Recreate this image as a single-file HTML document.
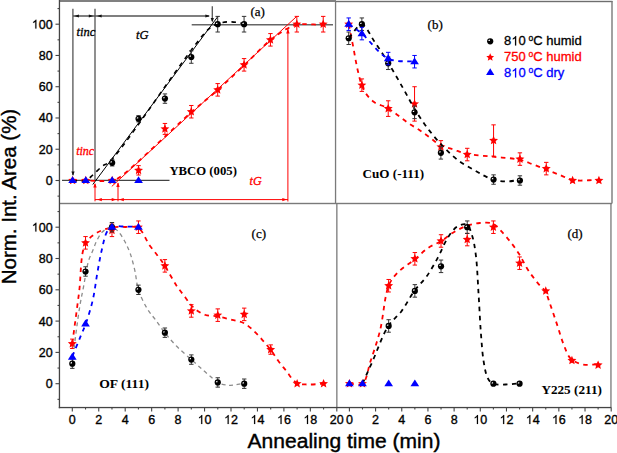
<!DOCTYPE html>
<html><head><meta charset="utf-8"><style>
html,body{margin:0;padding:0;background:#fff;}
svg{display:block;}
.sans{font-family:"Liberation Sans",sans-serif;}
.serif{font-family:"Liberation Serif",serif;}
</style></head><body>
<svg width="617" height="453" viewBox="0 0 617 453">
<rect x="0" y="0" width="617" height="453" fill="#fff"/>
<rect x="59" y="0" width="277" height="2" fill="#808080"/>
<rect x="336" y="0.8" width="276.5" height="1.4" fill="#6e6e6e"/>
<rect x="59" y="202.8" width="553" height="1.4" fill="#7a7a7a"/>
<rect x="334.9" y="1" width="1.3" height="202.5" fill="#7a7a7a"/>
<rect x="336.2" y="203.5" width="1.3" height="204" fill="#7a7a7a"/>
<rect x="611.3" y="1" width="1.4" height="202.5" fill="#7a7a7a"/>
<rect x="610.3" y="203.5" width="1.3" height="204" fill="#7a7a7a"/>
<rect x="58.8" y="0" width="1.3" height="408.2" fill="#444"/>
<rect x="58.8" y="406.9" width="552.5" height="1.3" fill="#444"/>
<path d="M57.5,196.13 H59.5" stroke="#444" stroke-width="1.1"/><path d="M55.5,180.5 H59.5" stroke="#444" stroke-width="1.1"/><path d="M57.5,164.87 H59.5" stroke="#444" stroke-width="1.1"/><path d="M55.5,149.24 H59.5" stroke="#444" stroke-width="1.1"/><path d="M57.5,133.61 H59.5" stroke="#444" stroke-width="1.1"/><path d="M55.5,117.98 H59.5" stroke="#444" stroke-width="1.1"/><path d="M57.5,102.35 H59.5" stroke="#444" stroke-width="1.1"/><path d="M55.5,86.72 H59.5" stroke="#444" stroke-width="1.1"/><path d="M57.5,71.09 H59.5" stroke="#444" stroke-width="1.1"/><path d="M55.5,55.46 H59.5" stroke="#444" stroke-width="1.1"/><path d="M57.5,39.83 H59.5" stroke="#444" stroke-width="1.1"/><path d="M55.5,24.2 H59.5" stroke="#444" stroke-width="1.1"/><path d="M57.5,8.57 H59.5" stroke="#444" stroke-width="1.1"/><path d="M57.5,399.35 H59.5" stroke="#444" stroke-width="1.1"/><path d="M55.5,383.7 H59.5" stroke="#444" stroke-width="1.1"/><path d="M57.5,368.05 H59.5" stroke="#444" stroke-width="1.1"/><path d="M55.5,352.4 H59.5" stroke="#444" stroke-width="1.1"/><path d="M57.5,336.75 H59.5" stroke="#444" stroke-width="1.1"/><path d="M55.5,321.1 H59.5" stroke="#444" stroke-width="1.1"/><path d="M57.5,305.45 H59.5" stroke="#444" stroke-width="1.1"/><path d="M55.5,289.8 H59.5" stroke="#444" stroke-width="1.1"/><path d="M57.5,274.15 H59.5" stroke="#444" stroke-width="1.1"/><path d="M55.5,258.5 H59.5" stroke="#444" stroke-width="1.1"/><path d="M57.5,242.85 H59.5" stroke="#444" stroke-width="1.1"/><path d="M55.5,227.2 H59.5" stroke="#444" stroke-width="1.1"/><path d="M57.5,211.55 H59.5" stroke="#444" stroke-width="1.1"/><path d="M72.3,407.5 V411.5" stroke="#444" stroke-width="1.1"/><path d="M85.52,407.5 V409.5" stroke="#444" stroke-width="1.1"/><path d="M98.75,407.5 V411.5" stroke="#444" stroke-width="1.1"/><path d="M111.97,407.5 V409.5" stroke="#444" stroke-width="1.1"/><path d="M125.2,407.5 V411.5" stroke="#444" stroke-width="1.1"/><path d="M138.43,407.5 V409.5" stroke="#444" stroke-width="1.1"/><path d="M151.65,407.5 V411.5" stroke="#444" stroke-width="1.1"/><path d="M164.88,407.5 V409.5" stroke="#444" stroke-width="1.1"/><path d="M178.1,407.5 V411.5" stroke="#444" stroke-width="1.1"/><path d="M191.32,407.5 V409.5" stroke="#444" stroke-width="1.1"/><path d="M204.55,407.5 V411.5" stroke="#444" stroke-width="1.1"/><path d="M217.77,407.5 V409.5" stroke="#444" stroke-width="1.1"/><path d="M231,407.5 V411.5" stroke="#444" stroke-width="1.1"/><path d="M244.22,407.5 V409.5" stroke="#444" stroke-width="1.1"/><path d="M257.45,407.5 V411.5" stroke="#444" stroke-width="1.1"/><path d="M270.68,407.5 V409.5" stroke="#444" stroke-width="1.1"/><path d="M283.9,407.5 V411.5" stroke="#444" stroke-width="1.1"/><path d="M297.12,407.5 V409.5" stroke="#444" stroke-width="1.1"/><path d="M310.35,407.5 V411.5" stroke="#444" stroke-width="1.1"/><path d="M323.57,407.5 V409.5" stroke="#444" stroke-width="1.1"/><path d="M336.8,407.5 V411.5" stroke="#444" stroke-width="1.1"/><path d="M349.4,407.5 V411.5" stroke="#444" stroke-width="1.1"/><path d="M362.49,407.5 V409.5" stroke="#444" stroke-width="1.1"/><path d="M375.58,407.5 V411.5" stroke="#444" stroke-width="1.1"/><path d="M388.67,407.5 V409.5" stroke="#444" stroke-width="1.1"/><path d="M401.76,407.5 V411.5" stroke="#444" stroke-width="1.1"/><path d="M414.85,407.5 V409.5" stroke="#444" stroke-width="1.1"/><path d="M427.94,407.5 V411.5" stroke="#444" stroke-width="1.1"/><path d="M441.03,407.5 V409.5" stroke="#444" stroke-width="1.1"/><path d="M454.12,407.5 V411.5" stroke="#444" stroke-width="1.1"/><path d="M467.21,407.5 V409.5" stroke="#444" stroke-width="1.1"/><path d="M480.3,407.5 V411.5" stroke="#444" stroke-width="1.1"/><path d="M493.39,407.5 V409.5" stroke="#444" stroke-width="1.1"/><path d="M506.48,407.5 V411.5" stroke="#444" stroke-width="1.1"/><path d="M519.57,407.5 V409.5" stroke="#444" stroke-width="1.1"/><path d="M532.66,407.5 V411.5" stroke="#444" stroke-width="1.1"/><path d="M545.75,407.5 V409.5" stroke="#444" stroke-width="1.1"/><path d="M558.84,407.5 V411.5" stroke="#444" stroke-width="1.1"/><path d="M571.93,407.5 V409.5" stroke="#444" stroke-width="1.1"/><path d="M585.02,407.5 V411.5" stroke="#444" stroke-width="1.1"/><path d="M598.11,407.5 V409.5" stroke="#444" stroke-width="1.1"/><path d="M611.2,407.5 V411.5" stroke="#444" stroke-width="1.1"/>
<g class="sans" font-size="12.5" fill="#000" stroke="#000" stroke-width="0.35"><text x="45.65" y="184.9">0</text><text x="38.7" y="153.64">2</text><text x="45.65" y="153.64">0</text><text x="38.7" y="122.38">4</text><text x="45.65" y="122.38">0</text><text x="38.7" y="91.12">6</text><text x="45.65" y="91.12">0</text><text x="38.7" y="59.86">8</text><text x="45.65" y="59.86">0</text><text x="38.7" y="28.6">0</text><text x="45.65" y="28.6">0</text><path d="M35.3,28.6L36.4,28.6L36.4,19.65L35.69,19.65C35.49,20.05 35.18,20.45 34.76,20.86C34.34,21.28 33.8,21.64 33.14,21.95L33.14,23.02C33.48,22.88 33.86,22.7 34.28,22.46C34.69,22.23 35.03,21.95 35.3,21.69Z" stroke-width="0.15"/><text x="45.65" y="388.1">0</text><text x="38.7" y="356.8">2</text><text x="45.65" y="356.8">0</text><text x="38.7" y="325.5">4</text><text x="45.65" y="325.5">0</text><text x="38.7" y="294.2">6</text><text x="45.65" y="294.2">0</text><text x="38.7" y="262.9">8</text><text x="45.65" y="262.9">0</text><text x="38.7" y="231.6">0</text><text x="45.65" y="231.6">0</text><path d="M35.3,231.6L36.4,231.6L36.4,222.65L35.69,222.65C35.49,223.05 35.18,223.45 34.76,223.86C34.34,224.28 33.8,224.64 33.14,224.95L33.14,226.02C33.48,225.88 33.86,225.7 34.28,225.46C34.69,225.23 35.03,224.95 35.3,224.69Z" stroke-width="0.15"/><text x="68.82" y="424">0</text><text x="95.27" y="424">2</text><text x="121.72" y="424">4</text><text x="148.17" y="424">6</text><text x="174.62" y="424">8</text><text x="204.55" y="424">0</text><path d="M201.16,424L202.26,424L202.26,415.05L201.54,415.05C201.35,415.45 201.03,415.85 200.61,416.26C200.19,416.68 199.65,417.04 199,417.35L199,418.42C199.34,418.28 199.72,418.1 200.13,417.86C200.55,417.63 200.89,417.35 201.16,417.09Z" stroke-width="0.15"/><text x="231" y="424">2</text><path d="M227.61,424L228.71,424L228.71,415.05L227.99,415.05C227.8,415.45 227.48,415.85 227.06,416.26C226.64,416.68 226.1,417.04 225.45,417.35L225.45,418.42C225.79,418.28 226.17,418.1 226.58,417.86C227,417.63 227.34,417.35 227.61,417.09Z" stroke-width="0.15"/><text x="257.45" y="424">4</text><path d="M254.06,424L255.16,424L255.16,415.05L254.44,415.05C254.25,415.45 253.93,415.85 253.51,416.26C253.09,416.68 252.55,417.04 251.9,417.35L251.9,418.42C252.24,418.28 252.62,418.1 253.03,417.86C253.45,417.63 253.79,417.35 254.06,417.09Z" stroke-width="0.15"/><text x="283.9" y="424">6</text><path d="M280.51,424L281.61,424L281.61,415.05L280.89,415.05C280.7,415.45 280.38,415.85 279.96,416.26C279.54,416.68 279,417.04 278.35,417.35L278.35,418.42C278.69,418.28 279.07,418.1 279.48,417.86C279.9,417.63 280.24,417.35 280.51,417.09Z" stroke-width="0.15"/><text x="310.35" y="424">8</text><path d="M306.96,424L308.06,424L308.06,415.05L307.34,415.05C307.15,415.45 306.83,415.85 306.41,416.26C305.99,416.68 305.45,417.04 304.8,417.35L304.8,418.42C305.14,418.28 305.52,418.1 305.93,417.86C306.35,417.63 306.69,417.35 306.96,417.09Z" stroke-width="0.15"/><text x="329.85" y="424">2</text><text x="336.8" y="424">0</text><text x="345.92" y="424">0</text><text x="372.1" y="424">2</text><text x="398.28" y="424">4</text><text x="424.46" y="424">6</text><text x="450.64" y="424">8</text><text x="480.3" y="424">0</text><path d="M476.91,424L478.01,424L478.01,415.05L477.29,415.05C477.1,415.45 476.78,415.85 476.36,416.26C475.94,416.68 475.4,417.04 474.75,417.35L474.75,418.42C475.09,418.28 475.47,418.1 475.88,417.86C476.3,417.63 476.64,417.35 476.91,417.09Z" stroke-width="0.15"/><text x="506.48" y="424">2</text><path d="M503.09,424L504.19,424L504.19,415.05L503.47,415.05C503.28,415.45 502.96,415.85 502.54,416.26C502.12,416.68 501.58,417.04 500.93,417.35L500.93,418.42C501.27,418.28 501.65,418.1 502.06,417.86C502.48,417.63 502.82,417.35 503.09,417.09Z" stroke-width="0.15"/><text x="532.66" y="424">4</text><path d="M529.27,424L530.37,424L530.37,415.05L529.65,415.05C529.46,415.45 529.14,415.85 528.72,416.26C528.3,416.68 527.76,417.04 527.11,417.35L527.11,418.42C527.45,418.28 527.83,418.1 528.24,417.86C528.66,417.63 529,417.35 529.27,417.09Z" stroke-width="0.15"/><text x="558.84" y="424">6</text><path d="M555.45,424L556.55,424L556.55,415.05L555.83,415.05C555.64,415.45 555.32,415.85 554.9,416.26C554.48,416.68 553.94,417.04 553.29,417.35L553.29,418.42C553.63,418.28 554.01,418.1 554.42,417.86C554.84,417.63 555.18,417.35 555.45,417.09Z" stroke-width="0.15"/><text x="585.02" y="424">8</text><path d="M581.63,424L582.73,424L582.73,415.05L582.01,415.05C581.82,415.45 581.5,415.85 581.08,416.26C580.66,416.68 580.12,417.04 579.47,417.35L579.47,418.42C579.81,418.28 580.19,418.1 580.6,417.86C581.02,417.63 581.36,417.35 581.63,417.09Z" stroke-width="0.15"/><text x="604.25" y="424">2</text><text x="611.2" y="424">0</text></g>
<text x="247.6" y="448.3" class="sans" font-size="20" stroke="#000" stroke-width="0.4" textLength="192.8" lengthAdjust="spacingAndGlyphs">Annealing time (min)</text>
<text transform="translate(16.2,284.3) rotate(-90)" x="0" y="0" class="sans" font-size="20" stroke="#000" stroke-width="0.4" textLength="175.5" lengthAdjust="spacingAndGlyphs">Norm. Int. Area (%)</text>
<g class="serif" font-size="13" fill="#000" stroke="#000" stroke-width="0.25">
<text x="250.4" y="16.3">(a)</text>
<text x="427.6" y="28.8">(b)</text>
<text x="251.6" y="238.4">(c)</text>
<text x="567.4" y="238.4">(d)</text>
</g>
<g class="serif" font-size="13" font-weight="bold" fill="#000" lengthAdjust="spacingAndGlyphs">
<text x="169.4" y="174.6" textLength="67.5" lengthAdjust="spacingAndGlyphs">YBCO (005)</text>
<text x="362.6" y="178" textLength="61.5" lengthAdjust="spacingAndGlyphs">CuO (-111)</text>
<text x="99.2" y="387.8" textLength="49.8" lengthAdjust="spacingAndGlyphs">OF (111)</text>
<text x="541.4" y="394.4" textLength="60.5" lengthAdjust="spacingAndGlyphs">Y225 (211)</text>
</g>
<path d="M72.9,8.8 V175 M95,8.8 V181 M73,16 H209 M212.3,6.3 V21" stroke="#555" stroke-width="1.3" fill="none"/><polygon points="74.3,16 78.9,14.5 78.9,17.5" fill="#111"/><polygon points="93.4,16 88.8,17.5 88.8,14.5" fill="#111"/><polygon points="97,16 101.6,14.5 101.6,17.5" fill="#111"/><polygon points="210,16 205.4,17.5 205.4,14.5" fill="#111"/><polygon points="73,176 71.4,171.4 74.6,171.4" fill="#111"/><polygon points="212.3,22.5 210.7,17.9 213.9,17.9" fill="#111"/><path d="M191.7,24.8 H333" stroke="#666" stroke-width="1.6"/><path d="M62,180.4 H169.5" stroke="#444" stroke-width="1.2"/><path d="M92.8,184.5 L218,16.3" stroke="#000" stroke-width="1"/><path d="M111.8,186.4 L296.5,16.6" stroke="#ff0000" stroke-width="1"/><path d="M95,184 V201.3 M118,183 V201.3 M287.9,29 V201.5 M95,199.6 H288" stroke="#ff0000" stroke-width="1" fill="none"/><polygon points="95,182.8 96.7,187.6 93.3,187.6" fill="#ff0000"/><polygon points="118,182.2 119.7,187 116.3,187" fill="#ff0000"/><polygon points="287.9,28.6 289.6,33.4 286.2,33.4" fill="#ff0000"/><polygon points="97.2,199.6 101.8,198 101.8,201.2" fill="#ff0000"/><polygon points="116.3,199.6 111.7,201.2 111.7,198" fill="#ff0000"/><polygon points="119.2,199.6 123.8,198 123.8,201.2" fill="#ff0000"/><polygon points="286.9,199.6 282.3,201.2 282.3,198" fill="#ff0000"/>
<g class="serif" font-style="italic" font-size="12.5" stroke-width="0.3">
<text x="76.6" y="35.8" stroke="#000">tinc</text>
<text x="136" y="39" stroke="#000">tG</text>
<text x="76.2" y="154.6" fill="#ff0000" stroke="#ff0000" font-size="12">tinc</text>
<text x="249.6" y="184.6" fill="#ff0000" stroke="#ff0000" font-size="12">tG</text>
</g>
<path d="M72.6,180.5 C77,180.5 80.63,180.5 85.8,180.5 C93.17,180.5 106.55,181.86 112.6,180.5 C115.95,179.75 116.52,179.32 120,177 C131.95,169.01 173.52,127.82 191.6,112 C202.34,102.6 209.07,97.67 217.7,90 C226.6,82.09 235.43,73.5 244.2,65.2 C252.93,56.93 262.53,46.6 270.2,40.3 C275.64,35.83 280.25,32.59 285,29.9 C288.96,27.66 291.74,25.81 296.5,24.8 C303.43,23.33 314.3,24.8 323.2,24.8" stroke="#ff0000" stroke-width="1.8" fill="none" stroke-dasharray="4.5 4.5"/>
<path d="M72.6,180.5 C77,180.5 82.17,181.78 85.8,180.5 C88.94,179.39 90.89,176.55 93.5,174.3 C96.38,171.82 99.36,168.44 102.3,166.2 C104.86,164.25 106.46,164.66 110,161.4 C125.06,147.53 191.48,44.86 208,29.7 C212.36,25.7 214.13,25.02 217.7,23.7 C221.43,22.32 225.75,21.84 230,21.8 C234.56,21.75 239.47,23.07 244.2,23.7" stroke="#000" stroke-width="1.6" fill="none" stroke-dasharray="4.5 4.5"/>
<path d="M138.55,165.65 V175.03 M136.35,165.65 h4.4 M136.35,175.03 h4.4" stroke="#ff0000" stroke-width="1" fill="none"/><path d="M164.93,123.45 V134.39 M162.73,123.45 h4.4 M162.73,134.39 h4.4" stroke="#ff0000" stroke-width="1" fill="none"/><path d="M191.31,105.48 V117.98 M189.11,105.48 h4.4 M189.11,117.98 h4.4" stroke="#ff0000" stroke-width="1" fill="none"/><path d="M217.69,83.59 V96.1 M215.49,83.59 h4.4 M215.49,96.1 h4.4" stroke="#ff0000" stroke-width="1" fill="none"/><path d="M244.07,58.59 V71.09 M241.87,58.59 h4.4 M241.87,71.09 h4.4" stroke="#ff0000" stroke-width="1" fill="none"/><path d="M270.45,33.58 V46.08 M268.25,33.58 h4.4 M268.25,46.08 h4.4" stroke="#ff0000" stroke-width="1" fill="none"/><path d="M296.83,16.39 V32.02 M294.63,16.39 h4.4 M294.63,32.02 h4.4" stroke="#ff0000" stroke-width="1" fill="none"/><path d="M323.21,16.39 V32.02 M321.01,16.39 h4.4 M321.01,32.02 h4.4" stroke="#ff0000" stroke-width="1" fill="none"/><polygon points="72.6,175.8 73.87,178.75 77.07,179.05 74.66,181.17 75.36,184.3 72.6,182.66 69.84,184.3 70.54,181.17 68.13,179.05 71.33,178.75" fill="#ff0000"/><polygon points="85.79,175.8 87.06,178.75 90.26,179.05 87.85,181.17 88.55,184.3 85.79,182.66 83.03,184.3 83.73,181.17 81.32,179.05 84.52,178.75" fill="#ff0000"/><polygon points="112.17,175.8 113.44,178.75 116.64,179.05 114.23,181.17 114.93,184.3 112.17,182.66 109.41,184.3 110.11,181.17 107.7,179.05 110.9,178.75" fill="#ff0000"/><polygon points="138.55,165.64 139.82,168.59 143.02,168.89 140.61,171.01 141.31,174.14 138.55,172.5 135.79,174.14 136.49,171.01 134.08,168.89 137.28,168.59" fill="#ff0000"/><polygon points="164.93,124.22 166.2,127.17 169.4,127.47 166.99,129.59 167.69,132.72 164.93,131.08 162.17,132.72 162.87,129.59 160.46,127.47 163.66,127.17" fill="#ff0000"/><polygon points="191.31,107.03 192.58,109.98 195.78,110.28 193.37,112.4 194.07,115.53 191.31,113.89 188.55,115.53 189.25,112.4 186.84,110.28 190.04,109.98" fill="#ff0000"/><polygon points="217.69,85.15 218.96,88.1 222.16,88.39 219.75,90.51 220.45,93.65 217.69,92.01 214.93,93.65 215.63,90.51 213.22,88.39 216.42,88.1" fill="#ff0000"/><polygon points="244.07,60.14 245.34,63.09 248.54,63.39 246.13,65.51 246.83,68.64 244.07,67 241.31,68.64 242.01,65.51 239.6,63.39 242.8,63.09" fill="#ff0000"/><polygon points="270.45,35.13 271.72,38.08 274.92,38.38 272.51,40.5 273.21,43.63 270.45,41.99 267.69,43.63 268.39,40.5 265.98,38.38 269.18,38.08" fill="#ff0000"/><polygon points="296.83,19.5 298.1,22.45 301.3,22.75 298.89,24.87 299.59,28 296.83,26.36 294.07,28 294.77,24.87 292.36,22.75 295.56,22.45" fill="#ff0000"/><polygon points="323.21,19.5 324.48,22.45 327.68,22.75 325.27,24.87 325.97,28 323.21,26.36 320.45,28 321.15,24.87 318.74,22.75 321.94,22.45" fill="#ff0000"/>
<path d="M112.17,159.71 V165.96 M109.97,159.71 h4.4 M109.97,165.96 h4.4" stroke="#333" stroke-width="1" fill="none"/><path d="M138.55,115.64 V121.89 M136.35,115.64 h4.4 M136.35,121.89 h4.4" stroke="#333" stroke-width="1" fill="none"/><path d="M164.93,93.91 V103.29 M162.73,93.91 h4.4 M162.73,103.29 h4.4" stroke="#333" stroke-width="1" fill="none"/><path d="M191.31,50.77 V63.28 M189.11,50.77 h4.4 M189.11,63.28 h4.4" stroke="#333" stroke-width="1" fill="none"/><path d="M217.69,16.39 V32.02 M215.49,16.39 h4.4 M215.49,32.02 h4.4" stroke="#333" stroke-width="1" fill="none"/><path d="M244.07,16.39 V32.02 M241.87,16.39 h4.4 M241.87,32.02 h4.4" stroke="#333" stroke-width="1" fill="none"/><circle cx="112.17" cy="162.84" r="3.1" fill="#000"/><path d="M111.82,162.59 h-1.55 a1.55,1.55 0 0 1 1.55,-1.55 z" fill="#fff"/><circle cx="138.55" cy="118.76" r="3.1" fill="#000"/><path d="M138.2,118.51 h-1.55 a1.55,1.55 0 0 1 1.55,-1.55 z" fill="#fff"/><circle cx="164.93" cy="98.6" r="3.1" fill="#000"/><path d="M164.58,98.35 h-1.55 a1.55,1.55 0 0 1 1.55,-1.55 z" fill="#fff"/><circle cx="191.31" cy="57.02" r="3.1" fill="#000"/><path d="M190.96,56.77 h-1.55 a1.55,1.55 0 0 1 1.55,-1.55 z" fill="#fff"/><circle cx="217.69" cy="24.2" r="3.1" fill="#000"/><path d="M217.34,23.95 h-1.55 a1.55,1.55 0 0 1 1.55,-1.55 z" fill="#fff"/><circle cx="244.07" cy="24.2" r="3.1" fill="#000"/><path d="M243.72,23.95 h-1.55 a1.55,1.55 0 0 1 1.55,-1.55 z" fill="#fff"/>
<polygon points="72.6,176.2 68.25,183.1 76.95,183.1" fill="#0000ff"/><polygon points="85.79,176.2 81.44,183.1 90.14,183.1" fill="#0000ff"/><polygon points="112.17,176.2 107.82,183.1 116.52,183.1" fill="#0000ff"/><polygon points="138.55,176.2 134.2,183.1 142.9,183.1" fill="#0000ff"/>
<path d="M348.7,24.3 C350.2,31.77 351.76,39.33 353.2,46.7 C354.59,53.86 355.7,61.24 357.2,67.9 C358.56,73.93 359.88,80.23 361.7,85 C363.11,88.69 364.43,91.55 366.5,94.4 C368.63,97.33 371.19,100.1 374.4,102.3 C378.05,104.8 383.54,105.82 387.6,108.1 C391.44,110.26 394.69,112.95 398.2,115.5 C401.76,118.08 405.21,121.05 408.8,123.5 C412.28,125.87 415.91,127.67 419.4,130 C422.98,132.39 426.5,135.17 430,137.7 C433.43,140.17 436.43,143.07 440.2,145 C444.16,147.02 448.92,147.94 453.3,149.4 C457.69,150.87 461.28,152.65 466.5,153.8 C473.68,155.38 483.96,155.73 492.7,156.7 C501.46,157.67 511.83,158.01 519,159.6 C524.16,160.74 527.55,162.37 532,164 C536.77,165.75 541.81,167.86 546.7,169.8 C551.58,171.73 556.69,173.82 561.3,175.6 C565.41,177.19 568.29,179.14 573,180 C579.63,181.2 589.47,180 597.7,180" stroke="#ff0000" stroke-width="1.8" fill="none" stroke-dasharray="4.5 4.5"/>
<path d="M361.87,78.91 V91.41 M359.67,78.91 h4.4 M359.67,91.41 h4.4" stroke="#ff0000" stroke-width="1" fill="none"/><path d="M388.21,100.79 V116.42 M386.01,100.79 h4.4 M386.01,116.42 h4.4" stroke="#ff0000" stroke-width="1" fill="none"/><path d="M414.55,86.72 V121.11 M412.35,86.72 h4.4 M412.35,121.11 h4.4" stroke="#ff0000" stroke-width="1" fill="none"/><path d="M440.89,140.64 V153.15 M438.69,140.64 h4.4 M438.69,153.15 h4.4" stroke="#ff0000" stroke-width="1" fill="none"/><path d="M467.23,148.3 V160.81 M465.03,148.3 h4.4 M465.03,160.81 h4.4" stroke="#ff0000" stroke-width="1" fill="none"/><path d="M493.57,124.86 V156.12 M491.37,124.86 h4.4 M491.37,156.12 h4.4" stroke="#ff0000" stroke-width="1" fill="none"/><path d="M519.91,152.83 V165.34 M517.71,152.83 h4.4 M517.71,165.34 h4.4" stroke="#ff0000" stroke-width="1" fill="none"/><path d="M546.25,162.37 V174.87 M544.05,162.37 h4.4 M544.05,174.87 h4.4" stroke="#ff0000" stroke-width="1" fill="none"/><polygon points="348.7,19.5 349.97,22.45 353.17,22.75 350.76,24.87 351.46,28 348.7,26.36 345.94,28 346.64,24.87 344.23,22.75 347.43,22.45" fill="#ff0000"/><polygon points="361.87,80.46 363.14,83.41 366.34,83.7 363.93,85.83 364.63,88.96 361.87,87.32 359.11,88.96 359.81,85.83 357.4,83.7 360.6,83.41" fill="#ff0000"/><polygon points="388.21,103.9 389.48,106.85 392.68,107.15 390.27,109.27 390.97,112.4 388.21,110.76 385.45,112.4 386.15,109.27 383.74,107.15 386.94,106.85" fill="#ff0000"/><polygon points="414.55,99.21 415.82,102.16 419.02,102.46 416.61,104.58 417.31,107.72 414.55,106.08 411.79,107.72 412.49,104.58 410.08,102.46 413.28,102.16" fill="#ff0000"/><polygon points="440.89,142.2 442.16,145.15 445.36,145.44 442.95,147.56 443.65,150.7 440.89,149.06 438.13,150.7 438.83,147.56 436.42,145.44 439.62,145.15" fill="#ff0000"/><polygon points="467.23,149.85 468.5,152.81 471.7,153.1 469.29,155.22 469.99,158.36 467.23,156.72 464.47,158.36 465.17,155.22 462.76,153.1 465.96,152.81" fill="#ff0000"/><polygon points="493.57,135.79 494.84,138.74 498.04,139.03 495.63,141.16 496.33,144.29 493.57,142.65 490.81,144.29 491.51,141.16 489.1,139.03 492.3,138.74" fill="#ff0000"/><polygon points="519.91,154.39 521.18,157.34 524.38,157.63 521.97,159.75 522.67,162.89 519.91,161.25 517.15,162.89 517.85,159.75 515.44,157.63 518.64,157.34" fill="#ff0000"/><polygon points="546.25,163.92 547.52,166.87 550.72,167.17 548.31,169.29 549.01,172.42 546.25,170.78 543.49,172.42 544.19,169.29 541.78,167.17 544.98,166.87" fill="#ff0000"/><polygon points="572.59,175.8 573.86,178.75 577.06,179.05 574.65,181.17 575.35,184.3 572.59,182.66 569.83,184.3 570.53,181.17 568.12,179.05 571.32,178.75" fill="#ff0000"/><polygon points="598.93,175.8 600.2,178.75 603.4,179.05 600.99,181.17 601.69,184.3 598.93,182.66 596.17,184.3 596.87,181.17 594.46,179.05 597.66,178.75" fill="#ff0000"/>
<path d="M348.7,38 C353.1,33.6 357.72,24.5 361.9,24.8 C366.32,25.12 370.17,35.44 374.4,41.5 C379.19,48.37 384.24,56.24 389,64 C393.94,72.05 398.93,80.99 403.5,89 C407.69,96.34 411.06,103.23 415.4,110.2 C419.87,117.37 424.93,124.9 430,131.4 C434.7,137.42 439.6,142.94 444.6,148 C449.28,152.74 453.98,157.29 459,161 C463.73,164.49 469.31,167.19 473.8,169.8 C477.5,171.95 480.69,173.94 484,175.6 C486.97,177.09 489.44,178.44 492.7,179.4 C496.56,180.53 501.42,181.4 505.8,181.5 C510.18,181.6 514.6,180.5 519,180" stroke="#000" stroke-width="1.8" fill="none" stroke-dasharray="4.5 4.5"/>
<path d="M348.7,32.01 V44.52 M346.5,32.01 h4.4 M346.5,44.52 h4.4" stroke="#333" stroke-width="1" fill="none"/><path d="M361.87,17.95 V30.45 M359.67,17.95 h4.4 M359.67,30.45 h4.4" stroke="#333" stroke-width="1" fill="none"/><path d="M388.21,57.02 V69.53 M386.01,57.02 h4.4 M386.01,69.53 h4.4" stroke="#333" stroke-width="1" fill="none"/><path d="M414.55,106.1 V118.61 M412.35,106.1 h4.4 M412.35,118.61 h4.4" stroke="#333" stroke-width="1" fill="none"/><path d="M440.89,146.58 V159.09 M438.69,146.58 h4.4 M438.69,159.09 h4.4" stroke="#333" stroke-width="1" fill="none"/><path d="M493.57,174.87 V184.25 M491.37,174.87 h4.4 M491.37,184.25 h4.4" stroke="#333" stroke-width="1" fill="none"/><path d="M519.91,175.81 V185.19 M517.71,175.81 h4.4 M517.71,185.19 h4.4" stroke="#333" stroke-width="1" fill="none"/><circle cx="348.7" cy="38.27" r="3.1" fill="#000"/><path d="M348.35,38.02 h-1.55 a1.55,1.55 0 0 1 1.55,-1.55 z" fill="#fff"/><circle cx="361.87" cy="24.2" r="3.1" fill="#000"/><path d="M361.52,23.95 h-1.55 a1.55,1.55 0 0 1 1.55,-1.55 z" fill="#fff"/><circle cx="388.21" cy="63.28" r="3.1" fill="#000"/><path d="M387.86,63.03 h-1.55 a1.55,1.55 0 0 1 1.55,-1.55 z" fill="#fff"/><circle cx="414.55" cy="112.35" r="3.1" fill="#000"/><path d="M414.2,112.1 h-1.55 a1.55,1.55 0 0 1 1.55,-1.55 z" fill="#fff"/><circle cx="440.89" cy="152.83" r="3.1" fill="#000"/><path d="M440.54,152.58 h-1.55 a1.55,1.55 0 0 1 1.55,-1.55 z" fill="#fff"/><circle cx="493.57" cy="179.56" r="3.1" fill="#000"/><path d="M493.22,179.31 h-1.55 a1.55,1.55 0 0 1 1.55,-1.55 z" fill="#fff"/><circle cx="519.91" cy="180.5" r="3.1" fill="#000"/><path d="M519.56,180.25 h-1.55 a1.55,1.55 0 0 1 1.55,-1.55 z" fill="#fff"/>
<path d="M348.7,24.2 C353.09,27.33 356.89,29.48 361.87,33.58 C369.33,39.72 378.62,54.09 388.21,58.59 C396.4,62.43 405.77,60.67 414.55,61.71" stroke="#0000ff" stroke-width="1.8" fill="none" stroke-dasharray="4.5 4.5"/>
<path d="M348.7,17.95 V30.45 M346.5,17.95 h4.4 M346.5,30.45 h4.4" stroke="#0000ff" stroke-width="1" fill="none"/><path d="M361.87,27.33 V39.83 M359.67,27.33 h4.4 M359.67,39.83 h4.4" stroke="#0000ff" stroke-width="1" fill="none"/><path d="M388.21,52.33 V64.84 M386.01,52.33 h4.4 M386.01,64.84 h4.4" stroke="#0000ff" stroke-width="1" fill="none"/><path d="M414.55,55.46 V67.96 M412.35,55.46 h4.4 M412.35,67.96 h4.4" stroke="#0000ff" stroke-width="1" fill="none"/><polygon points="348.7,19.9 344.35,26.8 353.05,26.8" fill="#0000ff"/><polygon points="361.87,29.28 357.52,36.18 366.22,36.18" fill="#0000ff"/><polygon points="388.21,54.29 383.86,61.19 392.56,61.19" fill="#0000ff"/><polygon points="414.55,57.41 410.2,64.31 418.9,64.31" fill="#0000ff"/>
<path d="M72.3,343.6 C74.53,326.73 76.82,309.73 79,293 C81.15,276.54 80.15,254.15 85.3,244 C88.28,238.13 92.75,235.36 97.3,232.6 C101.74,229.91 107.36,228.4 112.2,227.5 C116.57,226.69 120.69,226.92 125,227 C129.39,227.08 134.49,225.74 138.3,228 C143.07,230.82 146.07,240.42 149.7,245.5 C152.65,249.63 155.57,252.84 158.2,256.4 C160.64,259.7 162.53,262.25 165,266.1 C168.41,271.4 172.72,279.96 176.4,285.5 C179.34,289.93 182.39,293.51 185,297 C187.18,299.91 188.89,302.67 191,305 C192.91,307.1 194.71,308.88 197,310.5 C199.49,312.26 202.33,314.01 205.5,315 C209.04,316.1 213.25,315.66 217.4,316.4 C222.06,317.23 227.51,318.73 232.1,319.9 C236.18,320.93 240.31,321.44 243.6,323 C246.48,324.36 248.42,326.1 251,328.3 C254.29,331.1 258.15,335.23 261.4,338.8 C264.53,342.24 267.41,345.66 270.2,349.3 C273.02,352.99 275.44,357.1 278.2,360.8 C280.91,364.43 284.02,367.99 286.6,371.3 C288.87,374.21 290.77,377.43 292.9,379.6 C294.58,381.31 295.88,382.76 298,383.6 C300.58,384.63 304.01,384.41 307.6,384.5 C312.19,384.61 318.07,384.03 323.3,383.8" stroke="#ff0000" stroke-width="1.8" fill="none" stroke-dasharray="4.5 4.5"/>
<path d="M72.3,339.1 V348.49 M70.1,339.1 h4.4 M70.1,348.49 h4.4" stroke="#ff0000" stroke-width="1" fill="none"/><path d="M85.52,236.59 V249.11 M83.32,236.59 h4.4 M83.32,249.11 h4.4" stroke="#ff0000" stroke-width="1" fill="none"/><path d="M111.97,224.07 V236.59 M109.77,224.07 h4.4 M109.77,236.59 h4.4" stroke="#ff0000" stroke-width="1" fill="none"/><path d="M138.43,220.94 V233.46 M136.23,220.94 h4.4 M136.23,233.46 h4.4" stroke="#ff0000" stroke-width="1" fill="none"/><path d="M164.88,259.6 V272.12 M162.68,259.6 h4.4 M162.68,272.12 h4.4" stroke="#ff0000" stroke-width="1" fill="none"/><path d="M191.32,304.67 V317.19 M189.12,304.67 h4.4 M189.12,317.19 h4.4" stroke="#ff0000" stroke-width="1" fill="none"/><path d="M217.77,308.89 V321.41 M215.57,308.89 h4.4 M215.57,321.41 h4.4" stroke="#ff0000" stroke-width="1" fill="none"/><path d="M244.22,308.11 V320.63 M242.02,308.11 h4.4 M242.02,320.63 h4.4" stroke="#ff0000" stroke-width="1" fill="none"/><path d="M270.68,344.89 V354.28 M268.48,344.89 h4.4 M268.48,354.28 h4.4" stroke="#ff0000" stroke-width="1" fill="none"/><polygon points="72.3,339.09 73.57,342.04 76.77,342.34 74.36,344.46 75.06,347.59 72.3,345.95 69.54,347.59 70.24,344.46 67.83,342.34 71.03,342.04" fill="#ff0000"/><polygon points="85.52,238.15 86.8,241.1 89.99,241.4 87.58,243.52 88.29,246.65 85.52,245.01 82.76,246.65 83.47,243.52 81.06,241.4 84.25,241.1" fill="#ff0000"/><polygon points="111.97,225.63 113.25,228.58 116.44,228.88 114.03,231 114.74,234.13 111.97,232.49 109.21,234.13 109.92,231 107.51,228.88 110.7,228.58" fill="#ff0000"/><polygon points="138.43,222.5 139.7,225.45 142.89,225.75 140.48,227.87 141.19,231 138.43,229.36 135.66,231 136.37,227.87 133.96,225.75 137.15,225.45" fill="#ff0000"/><polygon points="164.88,261.16 166.15,264.11 169.34,264.4 166.93,266.52 167.64,269.66 164.88,268.02 162.11,269.66 162.82,266.52 160.41,264.4 163.6,264.11" fill="#ff0000"/><polygon points="191.32,306.23 192.6,309.18 195.79,309.48 193.38,311.6 194.09,314.73 191.32,313.09 188.56,314.73 189.27,311.6 186.86,309.48 190.05,309.18" fill="#ff0000"/><polygon points="217.77,310.45 219.05,313.4 222.24,313.7 219.83,315.82 220.54,318.96 217.77,317.31 215.01,318.96 215.72,315.82 213.31,313.7 216.5,313.4" fill="#ff0000"/><polygon points="244.22,309.67 245.5,312.62 248.69,312.92 246.28,315.04 246.99,318.17 244.22,316.53 241.46,318.17 242.17,315.04 239.76,312.92 242.95,312.62" fill="#ff0000"/><polygon points="270.68,344.88 271.95,347.83 275.14,348.13 272.73,350.25 273.44,353.39 270.68,351.74 267.91,353.39 268.62,350.25 266.21,348.13 269.4,347.83" fill="#ff0000"/><polygon points="297.12,379 298.4,381.95 301.59,382.25 299.18,384.37 299.89,387.5 297.12,385.86 294.36,387.5 295.07,384.37 292.66,382.25 295.85,381.95" fill="#ff0000"/><polygon points="323.57,379 324.85,381.95 328.04,382.25 325.63,384.37 326.34,387.5 323.57,385.86 320.81,387.5 321.52,384.37 319.11,382.25 322.3,381.95" fill="#ff0000"/>
<path d="M72.3,363.5 C73.53,353.33 74.69,342.94 76,333 C77.26,323.46 78.6,313.29 80,305 C81.13,298.32 82.23,293.55 83.5,287 C85.02,279.13 86.5,267.7 88.5,261 C89.82,256.57 91.53,253.7 92.9,250.3 C94.14,247.23 94.98,244.39 96.4,241.5 C97.89,238.48 99.59,234.89 101.7,232.6 C103.51,230.64 105.94,229.08 107.9,228.2 C109.39,227.53 110.73,226.92 112.2,227.2 C114.04,227.55 116.09,229.26 117.9,231.1 C120.32,233.55 122.68,237.64 124.7,241.3 C126.84,245.17 128.67,249.24 130.3,253.8 C132.14,258.97 133.57,264.95 134.9,270.8 C136.29,276.93 136.4,283.56 138.4,289.8 C140.51,296.37 144.27,303.84 147.5,309.2 C150.04,313.42 152.76,316.09 155.5,319.8 C158.48,323.83 161.33,328.25 164.7,332.5 C168.34,337.09 172.37,341.86 176.7,346.3 C181.2,350.91 186.7,355.46 191.3,359.6 C195.38,363.27 199.2,366.64 202.9,369.9 C206.27,372.88 209.92,376.08 212.6,378.4 C214.47,380.02 215.27,381.43 217.4,382.5 C220.41,384.01 225.33,385.12 229.6,385.3 C234.23,385.49 239.33,383.9 244.2,383.2" stroke="#8c8c8c" stroke-width="1.3" fill="none" stroke-dasharray="4 3.5"/>
<path d="M72.3,358.97 V368.36 M70.1,358.97 h4.4 M70.1,368.36 h4.4" stroke="#333" stroke-width="1" fill="none"/><path d="M85.52,266.79 V276.18 M83.32,266.79 h4.4 M83.32,276.18 h4.4" stroke="#333" stroke-width="1" fill="none"/><path d="M111.97,222.5 V231.89 M109.77,222.5 h4.4 M109.77,231.89 h4.4" stroke="#333" stroke-width="1" fill="none"/><path d="M138.43,285.11 V294.5 M136.23,285.11 h4.4 M136.23,294.5 h4.4" stroke="#333" stroke-width="1" fill="none"/><path d="M164.88,327.99 V337.38 M162.68,327.99 h4.4 M162.68,337.38 h4.4" stroke="#333" stroke-width="1" fill="none"/><path d="M191.32,354.9 V364.29 M189.12,354.9 h4.4 M189.12,364.29 h4.4" stroke="#333" stroke-width="1" fill="none"/><path d="M217.77,377.75 V387.14 M215.57,377.75 h4.4 M215.57,387.14 h4.4" stroke="#333" stroke-width="1" fill="none"/><path d="M244.22,379 V388.39 M242.02,379 h4.4 M242.02,388.39 h4.4" stroke="#333" stroke-width="1" fill="none"/><circle cx="72.3" cy="363.67" r="3.1" fill="#000"/><path d="M71.95,363.42 h-1.55 a1.55,1.55 0 0 1 1.55,-1.55 z" fill="#fff"/><circle cx="85.52" cy="271.49" r="3.1" fill="#000"/><path d="M85.17,271.24 h-1.55 a1.55,1.55 0 0 1 1.55,-1.55 z" fill="#fff"/><circle cx="111.97" cy="227.2" r="3.1" fill="#000"/><path d="M111.62,226.95 h-1.55 a1.55,1.55 0 0 1 1.55,-1.55 z" fill="#fff"/><circle cx="138.43" cy="289.8" r="3.1" fill="#000"/><path d="M138.08,289.55 h-1.55 a1.55,1.55 0 0 1 1.55,-1.55 z" fill="#fff"/><circle cx="164.88" cy="332.68" r="3.1" fill="#000"/><path d="M164.53,332.43 h-1.55 a1.55,1.55 0 0 1 1.55,-1.55 z" fill="#fff"/><circle cx="191.32" cy="359.6" r="3.1" fill="#000"/><path d="M190.97,359.35 h-1.55 a1.55,1.55 0 0 1 1.55,-1.55 z" fill="#fff"/><circle cx="217.77" cy="382.45" r="3.1" fill="#000"/><path d="M217.42,382.2 h-1.55 a1.55,1.55 0 0 1 1.55,-1.55 z" fill="#fff"/><circle cx="244.22" cy="383.7" r="3.1" fill="#000"/><path d="M243.87,383.45 h-1.55 a1.55,1.55 0 0 1 1.55,-1.55 z" fill="#fff"/>
<path d="M72.3,356.5 C75.17,349.53 78.43,341.59 80.9,335.6 C82.76,331.08 84.15,328.4 85.8,323.7 C88.1,317.18 90.91,308.12 92.8,299.9 C94.78,291.31 95.76,281.75 97.3,273.2 C98.73,265.27 99.98,257.49 101.7,250.3 C103.26,243.77 104.59,235.89 107,231.8 C108.49,229.27 109.8,227.59 112.2,226.6 C115.41,225.27 121,226.6 125.4,226.6 C129.8,226.6 134.2,226.6 138.6,226.6" stroke="#0000ff" stroke-width="1.8" fill="none" stroke-dasharray="4.5 4.5"/>
<polygon points="72.3,352.79 67.95,359.69 76.65,359.69" fill="#0000ff"/><polygon points="85.52,319.62 81.17,326.52 89.87,326.52" fill="#0000ff"/><polygon points="111.97,222.9 107.62,229.8 116.32,229.8" fill="#0000ff"/><polygon points="138.43,222.9 134.08,229.8 142.78,229.8" fill="#0000ff"/>
<path d="M349.4,383.7 C353.77,383.7 359.16,386.05 362.5,383.7 C366.97,380.55 367.72,369.61 370.4,361.6 C373.54,352.19 377.15,342.06 380,330.7 C383.4,317.17 384.46,295.74 388.7,285.6 C391.15,279.73 393.63,276.92 397.4,272.9 C401.9,268.1 409.23,263.78 414.6,259.4 C419.47,255.43 423.65,250.93 428.3,247.8 C432.44,245.02 436.79,243.71 440.9,241.2 C445.16,238.6 449.05,234.97 453.4,232.4 C457.72,229.85 462.35,227.38 466.9,225.8 C471.16,224.32 475.48,223.38 479.8,223 C484.05,222.63 489.05,222.09 492.6,223.5 C495.82,224.78 497.79,227.67 500.5,230.4 C503.82,233.75 507.61,238.34 510.8,242.4 C513.86,246.31 516.57,250 519.3,254.3 C522.29,259.03 524.75,264.81 527.9,269.7 C530.99,274.5 534.84,279.59 538,283.4 C540.46,286.36 543.08,287.84 545,290.9 C547.23,294.47 548.24,299.06 550,303.9 C552.19,309.94 554.7,317.56 557,324.4 C559.3,331.23 561.3,338.83 563.8,344.9 C565.9,350.01 567.29,355.32 570.6,358.6 C573.69,361.66 578.23,363.4 582.6,364.4 C587.3,365.48 592.87,364.4 598,364.4" stroke="#ff0000" stroke-width="1.8" fill="none" stroke-dasharray="4.5 4.5"/>
<path d="M388.67,279.47 V291.99 M386.47,279.47 h4.4 M386.47,291.99 h4.4" stroke="#ff0000" stroke-width="1" fill="none"/><path d="M414.85,252.55 V265.07 M412.65,252.55 h4.4 M412.65,265.07 h4.4" stroke="#ff0000" stroke-width="1" fill="none"/><path d="M441.03,234.71 V247.23 M438.83,234.71 h4.4 M438.83,247.23 h4.4" stroke="#ff0000" stroke-width="1" fill="none"/><path d="M467.21,233.3 V245.82 M465.01,233.3 h4.4 M465.01,245.82 h4.4" stroke="#ff0000" stroke-width="1" fill="none"/><path d="M493.39,220.94 V233.46 M491.19,220.94 h4.4 M491.19,233.46 h4.4" stroke="#ff0000" stroke-width="1" fill="none"/><path d="M519.57,256.94 V269.45 M517.37,256.94 h4.4 M517.37,269.45 h4.4" stroke="#ff0000" stroke-width="1" fill="none"/><polygon points="349.4,379 350.67,381.95 353.87,382.25 351.46,384.37 352.16,387.5 349.4,385.86 346.64,387.5 347.34,384.37 344.93,382.25 348.13,381.95" fill="#ff0000"/><polygon points="362.49,379 363.76,381.95 366.96,382.25 364.55,384.37 365.25,387.5 362.49,385.86 359.73,387.5 360.43,384.37 358.02,382.25 361.22,381.95" fill="#ff0000"/><polygon points="388.67,281.03 389.94,283.98 393.14,284.28 390.73,286.4 391.43,289.53 388.67,287.89 385.91,289.53 386.61,286.4 384.2,284.28 387.4,283.98" fill="#ff0000"/><polygon points="414.85,254.11 416.12,257.06 419.32,257.36 416.91,259.48 417.61,262.62 414.85,260.97 412.09,262.62 412.79,259.48 410.38,257.36 413.58,257.06" fill="#ff0000"/><polygon points="441.03,236.27 442.3,239.22 445.5,239.52 443.09,241.64 443.79,244.77 441.03,243.13 438.27,244.77 438.97,241.64 436.56,239.52 439.76,239.22" fill="#ff0000"/><polygon points="467.21,234.86 468.48,237.81 471.68,238.11 469.27,240.23 469.97,243.37 467.21,241.73 464.45,243.37 465.15,240.23 462.74,238.11 465.94,237.81" fill="#ff0000"/><polygon points="493.39,222.5 494.66,225.45 497.86,225.75 495.45,227.87 496.15,231 493.39,229.36 490.63,231 491.33,227.87 488.92,225.75 492.12,225.45" fill="#ff0000"/><polygon points="519.57,258.5 520.84,261.45 524.04,261.74 521.63,263.86 522.33,267 519.57,265.36 516.81,267 517.51,263.86 515.1,261.74 518.3,261.45" fill="#ff0000"/><polygon points="545.75,286.35 547.02,289.3 550.22,289.6 547.81,291.72 548.51,294.85 545.75,293.21 542.99,294.85 543.69,291.72 541.28,289.6 544.48,289.3" fill="#ff0000"/><polygon points="571.93,355.84 573.2,358.79 576.4,359.09 573.99,361.21 574.69,364.34 571.93,362.7 569.17,364.34 569.87,361.21 567.46,359.09 570.66,358.79" fill="#ff0000"/><polygon points="598.11,360.38 599.38,363.33 602.58,363.62 600.17,365.74 600.87,368.88 598.11,367.24 595.35,368.88 596.05,365.74 593.64,363.62 596.84,363.33" fill="#ff0000"/>
<path d="M362.5,383.7 C365.8,376.33 368.71,369.84 372.4,361.6 C377.08,351.14 382.51,334.92 388.3,326 C392.39,319.7 397.16,316.97 401.3,311.5 C405.98,305.32 410.08,296.63 414.6,290.5 C418.47,285.26 422.68,281.86 426.4,276.7 C430.54,270.96 434.43,263.91 438,257.4 C441.49,251.04 444.05,243.53 447.6,238.1 C450.56,233.57 453.59,228.77 457.2,226.6 C460.1,224.85 464.29,223.44 466.7,224.6 C469.33,225.86 470.49,230.79 471.9,234.9 C473.77,240.35 474.76,246.99 475.8,254.8 C477.25,265.75 477.73,281.32 478.6,294.6 C479.47,307.89 480.03,322.4 481,334.5 C481.81,344.64 482.41,354.44 483.8,362.4 C484.86,368.48 485.8,374.61 487.8,378.3 C489.11,380.73 490.33,382.4 492.6,383.5 C495.67,384.99 501.19,384.5 505.5,384.5 C509.82,384.5 514.17,383.83 518.5,383.5" stroke="#000" stroke-width="1.8" fill="none" stroke-dasharray="4.5 4.5"/>
<path d="M388.67,319.69 V332.21 M386.47,319.69 h4.4 M386.47,332.21 h4.4" stroke="#333" stroke-width="1" fill="none"/><path d="M414.85,284.64 V297.16 M412.65,284.64 h4.4 M412.65,297.16 h4.4" stroke="#333" stroke-width="1" fill="none"/><path d="M441.03,260.06 V272.58 M438.83,260.06 h4.4 M438.83,272.58 h4.4" stroke="#333" stroke-width="1" fill="none"/><path d="M467.21,220.94 V233.46 M465.01,220.94 h4.4 M465.01,233.46 h4.4" stroke="#333" stroke-width="1" fill="none"/><circle cx="388.67" cy="325.95" r="3.1" fill="#000"/><path d="M388.32,325.7 h-1.55 a1.55,1.55 0 0 1 1.55,-1.55 z" fill="#fff"/><circle cx="414.85" cy="290.9" r="3.1" fill="#000"/><path d="M414.5,290.65 h-1.55 a1.55,1.55 0 0 1 1.55,-1.55 z" fill="#fff"/><circle cx="441.03" cy="266.32" r="3.1" fill="#000"/><path d="M440.68,266.07 h-1.55 a1.55,1.55 0 0 1 1.55,-1.55 z" fill="#fff"/><circle cx="467.21" cy="227.2" r="3.1" fill="#000"/><path d="M466.86,226.95 h-1.55 a1.55,1.55 0 0 1 1.55,-1.55 z" fill="#fff"/><circle cx="493.39" cy="383.7" r="3.1" fill="#000"/><path d="M493.04,383.45 h-1.55 a1.55,1.55 0 0 1 1.55,-1.55 z" fill="#fff"/><circle cx="519.57" cy="383.7" r="3.1" fill="#000"/><path d="M519.22,383.45 h-1.55 a1.55,1.55 0 0 1 1.55,-1.55 z" fill="#fff"/>
<polygon points="349.4,379.4 345.05,386.3 353.75,386.3" fill="#0000ff"/><polygon points="362.49,379.4 358.14,386.3 366.84,386.3" fill="#0000ff"/><polygon points="388.67,379.4 384.32,386.3 393.02,386.3" fill="#0000ff"/><polygon points="414.85,379.4 410.5,386.3 419.2,386.3" fill="#0000ff"/>
<circle cx="490.2" cy="41.3" r="3.1" fill="#000"/><path d="M489.85,41.05 h-1.55 a1.55,1.55 0 0 1 1.55,-1.55 z" fill="#fff"/><polygon points="490.2,53.3 491.31,55.87 494.1,56.13 491.99,57.98 492.61,60.72 490.2,59.29 487.79,60.72 488.41,57.98 486.3,56.13 489.09,55.87" fill="#ff0000"/><polygon points="490.2,68.2 486.05,75.1 494.35,75.1" fill="#0000ff"/>
<g class="sans" font-size="13">
<g fill="#000" stroke="#000" stroke-width="0.3"><text x="504.1" y="45.4">8</text><text x="518.56" y="45.4">0</text><path d="M515.03,45.4L516.17,45.4L516.17,36.09L515.43,36.09C515.23,36.51 514.9,36.93 514.47,37.35C514.03,37.78 513.47,38.16 512.78,38.49L512.78,39.59C513.14,39.45 513.53,39.26 513.96,39.01C514.4,38.77 514.75,38.48 515.03,38.21Z" stroke-width="0.15"/><text x="528.4" y="40.8" font-size="8.5">o</text><text x="533.3" y="45.4">C humid</text></g>
<g fill="#ff0000" stroke="#ff0000" stroke-width="0.3"><text x="504.1" y="61.4">7</text><text x="511.33" y="61.4">5</text><text x="518.56" y="61.4">0</text><text x="528.4" y="56.8" font-size="8.5">o</text><text x="533.3" y="61.4">C humid</text></g>
<g fill="#0000ff" stroke="#0000ff" stroke-width="0.3"><text x="504.1" y="77.4">8</text><text x="518.56" y="77.4">0</text><path d="M515.03,77.4L516.17,77.4L516.17,68.09L515.43,68.09C515.23,68.51 514.9,68.93 514.47,69.35C514.03,69.78 513.47,70.16 512.78,70.49L512.78,71.59C513.14,71.45 513.53,71.26 513.96,71.01C514.4,70.77 514.75,70.48 515.03,70.21Z" stroke-width="0.15"/><text x="528.4" y="72.8" font-size="8.5">o</text><text x="533.3" y="77.4">C dry</text></g>
</g>
</svg>
</body></html>
